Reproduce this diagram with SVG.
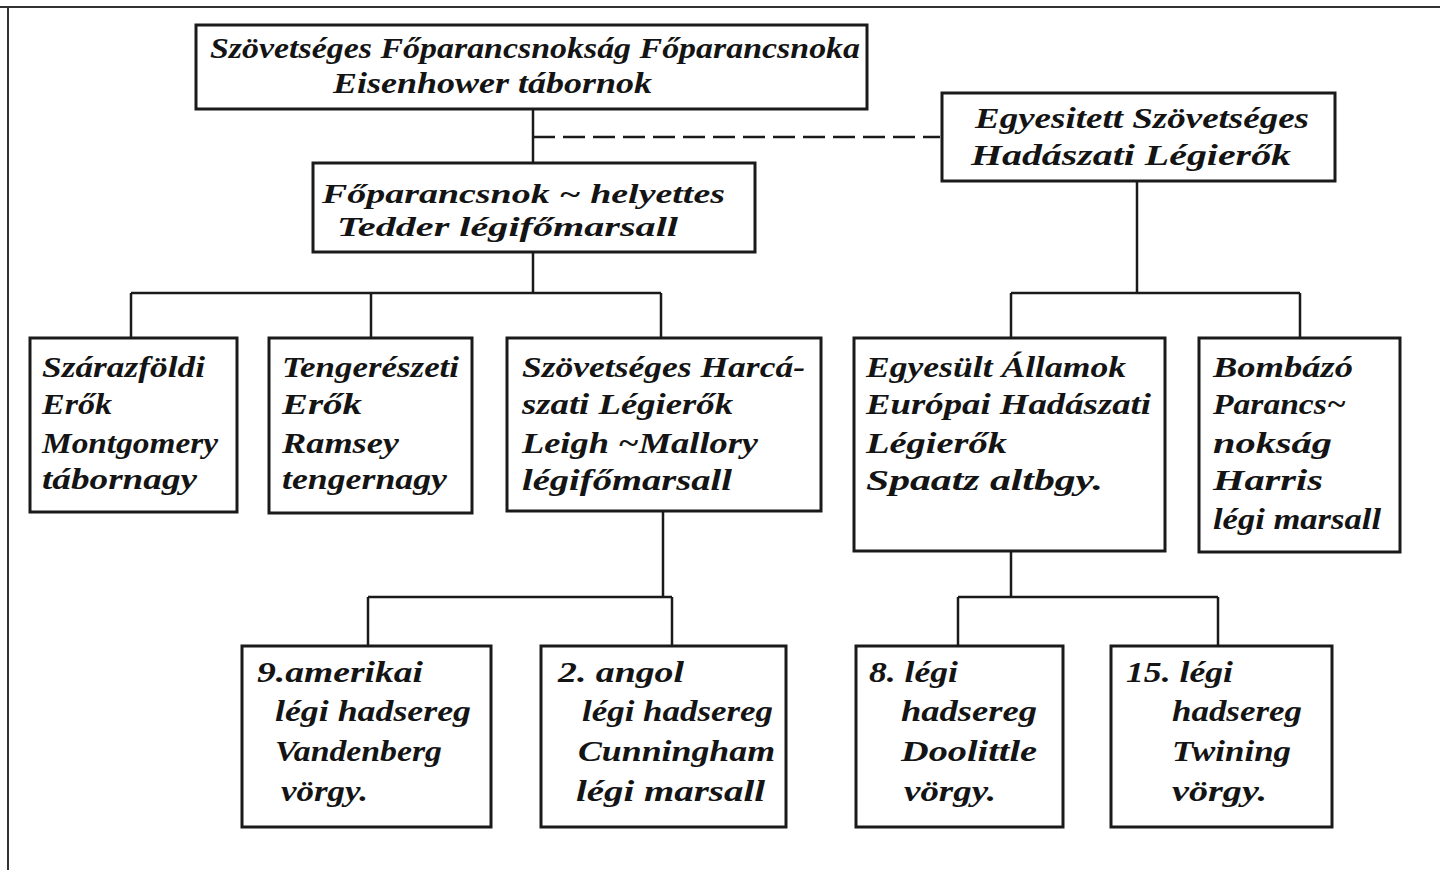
<svg xmlns="http://www.w3.org/2000/svg" width="1440" height="870" viewBox="0 0 1440 870">
<style>
.bg{fill:#ffffff}
.frame{fill:none;stroke:#333;stroke-width:2}
.box{fill:#ffffff;stroke:#1a1a1a;stroke-width:3}
.ln{fill:none;stroke:#1a1a1a;stroke-width:2.5}
.dash{fill:none;stroke:#1a1a1a;stroke-width:2.5;stroke-dasharray:22 8}
text{font-family:"Liberation Serif","DejaVu Serif",serif;font-style:italic;font-weight:bold;font-size:30px;fill:#141414}
.sm{font-size:27px}
</style>
<rect class="bg" x="0" y="0" width="1440" height="870"/>
<path class="frame" d="M0 7 H1440 M8 7 V870"/>
<g id="connectors">
<path class="ln" d="M533 110 V163"/>
<path class="dash" d="M533 137 H940"/>
<path class="ln" d="M533 252 V293 M131 293 H661 M131 293 V338 M371 293 V338 M661 293 V338"/>
<path class="ln" d="M1137 182 V293 M1011 293 H1300 M1011 293 V338 M1300 293 V338"/>
<path class="ln" d="M663 511 V597 M368 597 H672 M368 597 V646 M672 597 V646"/>
<path class="ln" d="M1011 551 V597 M958 597 H1218 M958 597 V646 M1218 597 V646"/>
</g>
<g id="n-supreme">
<rect class="box" x="196" y="25" width="671" height="84"/>
<text x="210" y="58" textLength="650" lengthAdjust="spacingAndGlyphs">Szövetséges  Főparancsnokság Főparancsnoka</text>
<text x="333" y="93" textLength="319" lengthAdjust="spacingAndGlyphs">Eisenhower  tábornok</text>
</g>
<g id="n-strategic">
<rect class="box" x="942" y="93" width="393" height="88"/>
<text x="975" y="128" textLength="334" lengthAdjust="spacingAndGlyphs">Egyesitett  Szövetséges</text>
<text x="971" y="165" textLength="320" lengthAdjust="spacingAndGlyphs">Hadászati  Légierők</text>
</g>
<g id="n-deputy">
<rect class="box" x="313" y="163" width="442" height="89"/>
<text class="sm" x="322" y="203" textLength="403" lengthAdjust="spacingAndGlyphs">Főparancsnok ~ helyettes</text>
<text class="sm" x="337" y="236" textLength="341" lengthAdjust="spacingAndGlyphs">Tedder  légifőmarsall</text>
</g>
<g id="n-land">
<rect class="box" x="30" y="338" width="207" height="174"/>
<text x="42" y="377" textLength="163" lengthAdjust="spacingAndGlyphs">Szárazföldi</text>
<text x="42" y="414" textLength="70" lengthAdjust="spacingAndGlyphs">Erők</text>
<text x="42" y="453" textLength="176" lengthAdjust="spacingAndGlyphs">Montgomery</text>
<text x="42" y="489" textLength="155" lengthAdjust="spacingAndGlyphs">tábornagy</text>
</g>
<g id="n-naval">
<rect class="box" x="269" y="338" width="203" height="175"/>
<text x="282" y="377" textLength="177" lengthAdjust="spacingAndGlyphs">Tengerészeti</text>
<text x="282" y="414" textLength="80" lengthAdjust="spacingAndGlyphs">Erők</text>
<text x="282" y="453" textLength="117" lengthAdjust="spacingAndGlyphs">Ramsey</text>
<text x="282" y="489" textLength="165" lengthAdjust="spacingAndGlyphs">tengernagy</text>
</g>
<g id="n-tactical">
<rect class="box" x="507" y="338" width="314" height="173"/>
<text x="522" y="377" textLength="283" lengthAdjust="spacingAndGlyphs">Szövetséges Harcá-</text>
<text x="522" y="414" textLength="211" lengthAdjust="spacingAndGlyphs">szati Légierők</text>
<text x="522" y="453" textLength="236" lengthAdjust="spacingAndGlyphs">Leigh ~Mallory</text>
<text x="522" y="490" textLength="210" lengthAdjust="spacingAndGlyphs">légifőmarsall</text>
</g>
<g id="n-usstaf">
<rect class="box" x="854" y="338" width="311" height="213"/>
<text x="866" y="377" textLength="260" lengthAdjust="spacingAndGlyphs">Egyesült Államok</text>
<text x="866" y="414" textLength="285" lengthAdjust="spacingAndGlyphs">Európai Hadászati</text>
<text x="866" y="453" textLength="141" lengthAdjust="spacingAndGlyphs">Légierők</text>
<text x="866" y="490" textLength="237" lengthAdjust="spacingAndGlyphs">Spaatz  altbgy.</text>
</g>
<g id="n-bomber">
<rect class="box" x="1199" y="338" width="201" height="214"/>
<text x="1213" y="377" textLength="140" lengthAdjust="spacingAndGlyphs">Bombázó</text>
<text x="1213" y="414" textLength="133" lengthAdjust="spacingAndGlyphs">Parancs~</text>
<text x="1213" y="453" textLength="119" lengthAdjust="spacingAndGlyphs">nokság</text>
<text x="1213" y="490" textLength="110" lengthAdjust="spacingAndGlyphs">Harris</text>
<text x="1213" y="529" textLength="168" lengthAdjust="spacingAndGlyphs">légi marsall</text>
</g>
<g id="n-9th">
<rect class="box" x="242" y="646" width="249" height="181"/>
<text x="257" y="682" textLength="166" lengthAdjust="spacingAndGlyphs">9.amerikai</text>
<text x="275" y="721" textLength="196" lengthAdjust="spacingAndGlyphs">légi hadsereg</text>
<text x="275" y="761" textLength="167" lengthAdjust="spacingAndGlyphs">Vandenberg</text>
<text x="281" y="801" textLength="87" lengthAdjust="spacingAndGlyphs">vörgy.</text>
</g>
<g id="n-2nd">
<rect class="box" x="541" y="646" width="245" height="181"/>
<text x="558" y="682" textLength="126" lengthAdjust="spacingAndGlyphs">2. angol</text>
<text x="582" y="721" textLength="191" lengthAdjust="spacingAndGlyphs">légi hadsereg</text>
<text x="578" y="761" textLength="197" lengthAdjust="spacingAndGlyphs">Cunningham</text>
<text x="576" y="801" textLength="189" lengthAdjust="spacingAndGlyphs">légi marsall</text>
</g>
<g id="n-8th">
<rect class="box" x="856" y="646" width="207" height="181"/>
<text x="869" y="682" textLength="89" lengthAdjust="spacingAndGlyphs">8. légi</text>
<text x="901" y="721" textLength="136" lengthAdjust="spacingAndGlyphs">hadsereg</text>
<text x="901" y="761" textLength="136" lengthAdjust="spacingAndGlyphs">Doolittle</text>
<text x="904" y="801" textLength="92" lengthAdjust="spacingAndGlyphs">vörgy.</text>
</g>
<g id="n-15th">
<rect class="box" x="1111" y="646" width="221" height="181"/>
<text x="1126" y="682" textLength="107" lengthAdjust="spacingAndGlyphs">15. légi</text>
<text x="1172" y="721" textLength="130" lengthAdjust="spacingAndGlyphs">hadsereg</text>
<text x="1172" y="761" textLength="119" lengthAdjust="spacingAndGlyphs">Twining</text>
<text x="1172" y="801" textLength="95" lengthAdjust="spacingAndGlyphs">vörgy.</text>
</g>
</svg>
